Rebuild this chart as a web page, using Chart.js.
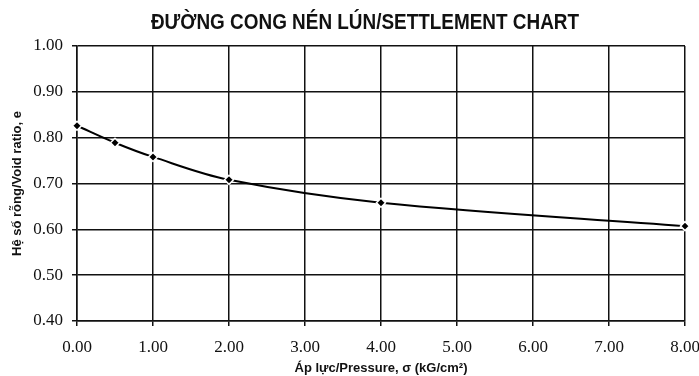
<!DOCTYPE html>
<html>
<head>
<meta charset="utf-8">
<script src="https://cdn.jsdelivr.net/npm/chart.js@4.4.0/dist/chart.umd.min.js"></script>
<style>
  html, body { margin: 0; padding: 0; background: #fff; }
  #wrap { width: 699px; height: 376px; }
</style>
</head>
<body>
<div id="wrap"><canvas id="settle" width="699" height="376"></canvas></div>
<script>
// data
const pressure = [0, 0.5, 1, 2, 4, 8];           // kG/cm2
const voidRatio = [0.826, 0.789, 0.758, 0.708, 0.658, 0.607];
const xTicks = [0, 1, 2, 3, 4, 5, 6, 7, 8];
const yTicks = [0.4, 0.5, 0.6, 0.7, 0.8, 0.9, 1.0];

// precomposed Vietnamese letters written as escapes so they render as one glyph
const titleText = "\u0110\u01AF\u1EDCNG CONG N\u00C9N L\u00DAN/SETTLEMENT CHART";
const xTitle = "\u00C1p l\u1EF1c/Pressure, \u03C3 (kG/cm\u00B2)";
const yTitle = "H\u1EC7 s\u1ED1 r\u1ED7ng/Void ratio, e";

const points = pressure.map((p, i) => ({ x: p, y: voidRatio[i] }));

// chart title, squeezed sideways to look like a narrow bold font
const topTitle = {
    id: "topTitle",
    afterDraw(chart) {
        const ctx = chart.ctx;
        ctx.save();
        ctx.translate(365, 23);
        ctx.scale(0.86, 1);
        ctx.font = "bold 22px 'Liberation Sans', Arial, sans-serif";
        ctx.fillStyle = "#111";
        ctx.textAlign = "center";
        ctx.textBaseline = "middle";
        ctx.fillText(titleText, 0, 0);
        ctx.restore();
    }
};

const tickFont = { family: "'Liberation Serif', serif", size: 17 };
const titleFont = { family: "'Liberation Sans', Arial, sans-serif", size: 13, weight: "bold" };

const ctx = document.getElementById("settle").getContext("2d");
new Chart(ctx, {
    type: "scatter",
    data: {
        datasets: [
            {
                label: "e",
                data: points,
                showLine: true,
                borderColor: "#000",
                borderWidth: 2,
                tension: 0.35,
                pointStyle: "rectRot",
                pointRadius: 4.5,
                pointBackgroundColor: "#000",
                pointBorderColor: "#fff",
                pointBorderWidth: 1.5,
                clip: false
            }
        ]
    },
    plugins: [topTitle],
    options: {
        responsive: false,
        animation: false,
        layout: { padding: { top: 46, right: 14, left: 10, bottom: 0 } },
        plugins: {
            legend: { display: false },
            tooltip: { enabled: false }
        },
        scales: {
            x: {
                type: "linear",
                min: 0,
                max: 8,
                afterBuildTicks: s => { s.ticks = xTicks.map(v => ({ value: v })); },
                afterFit: s => { s.height = 55; s.paddingRight = 0; s.paddingLeft = 0; },
                grid: { color: "#111", lineWidth: 1.5, tickLength: 5, tickColor: "#111" },
                border: { color: "#111", width: 1.5 },
                ticks: {
                    color: "#111",
                    padding: 11,
                    font: tickFont,
                    callback: v => v.toFixed(2)
                },
                title: {
                    display: true,
                    text: xTitle,
                    color: "#111",
                    padding: { top: -6, bottom: 0 },
                    font: titleFont
                }
            },
            y: {
                min: 0.4,
                max: 1.0,
                afterBuildTicks: s => { s.ticks = yTicks.map(v => ({ value: v })); },
                afterFit: s => { s.width = 67; s.paddingTop = 0; s.paddingBottom = 0; },
                grid: { color: "#111", lineWidth: 1.5, tickLength: 5, tickColor: "#111" },
                border: { color: "#111", width: 1.5 },
                ticks: {
                    color: "#111",
                    padding: 9,
                    font: tickFont,
                    callback: v => v.toFixed(2)
                },
                title: {
                    display: true,
                    text: yTitle,
                    color: "#111",
                    padding: { top: 0, bottom: 0 },
                    font: titleFont
                }
            }
        }
    }
});
</script>
</body>
</html>
